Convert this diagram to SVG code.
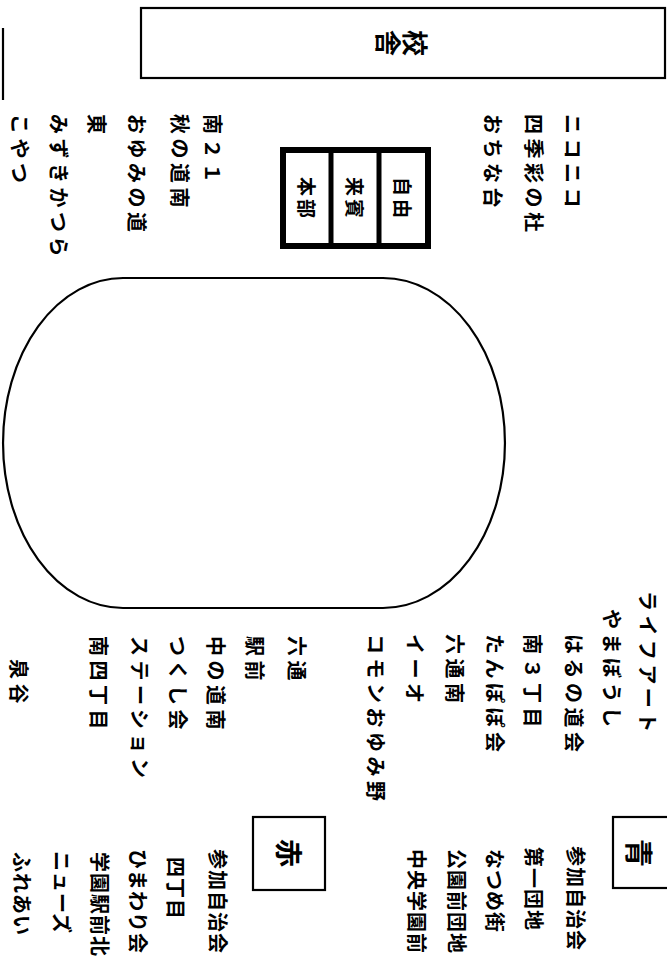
<svg xmlns="http://www.w3.org/2000/svg" width="667" height="959" viewBox="0 0 667 959">
<style>
.t{font-family:"Noto Sans CJK JP","Noto Sans",sans-serif;font-size:20px;font-weight:700;fill:#000;dominant-baseline:central;letter-spacing:4.5px}
.s{letter-spacing:1px}
.b{font-family:"Noto Sans CJK JP","Noto Sans",sans-serif;font-weight:700;fill:#000;dominant-baseline:central;text-anchor:middle}
.ln{fill:none;stroke:#000;stroke-width:2.2}
</style>
<rect width="667" height="959" fill="#fff"/>
<g id="edge-line"><line class="ln" x1="3" y1="28" x2="3" y2="100"/></g>
<g id="kousha">
<rect class="ln" x="141" y="8" width="524" height="70" stroke-width="2.5"/>
<text class="b" font-size="26" transform="translate(416,43) rotate(90)">校</text>
<text class="b" font-size="26" transform="translate(389,43) rotate(90)">舎</text>
</g>
<g id="honbu">
<rect x="283" y="150" width="145" height="96" fill="none" stroke="#000" stroke-width="6"/>
<line x1="331" y1="150" x2="331" y2="246" stroke="#000" stroke-width="5"/>
<line x1="379" y1="150" x2="379" y2="246" stroke="#000" stroke-width="5"/>
<text class="b" font-size="19" letter-spacing="3" transform="translate(403,199) rotate(90)">自由</text>
<text class="b" font-size="19" letter-spacing="3" transform="translate(355,199) rotate(90)">来賓</text>
<text class="b" font-size="19" letter-spacing="3" transform="translate(307,199) rotate(90)">本部</text>
</g>
<g id="track"><path class="ln" d="M123,278 L383,278 A122,165 0 0 1 383,608 L123,608 A120,165 0 0 1 123,278 Z"/></g>
<g id="top-right-list">
<text class="t" transform="translate(573,114) rotate(90)">ニコニコ</text>
<text class="t" transform="translate(534,114) rotate(90)">四季彩の杜</text>
<text class="t" transform="translate(493,114) rotate(90)">おちな台</text>
</g>
<g id="top-left-list">
<text class="t" transform="translate(213,114) rotate(90)">南２１</text>
<text class="t" transform="translate(180,114) rotate(90)">秋の道南</text>
<text class="t" transform="translate(137,114) rotate(90)">おゆみの道</text>
<text class="t" transform="translate(97,114) rotate(90)">東</text>
<text class="t" transform="translate(59,114) rotate(90)">みずきかつら</text>
<text class="t" transform="translate(20,114) rotate(90)">こやつ</text>
</g>
<g id="bottom-left-list">
<text class="t" transform="translate(297,636) rotate(90)">六通</text>
<text class="t" transform="translate(255,636) rotate(90)">駅前</text>
<text class="t" transform="translate(216,636) rotate(90)">中の道南</text>
<text class="t" transform="translate(178,636) rotate(90)">つくし会</text>
<text class="t" transform="translate(140,636) rotate(90)">ステーション</text>
<text class="t" transform="translate(99,636) rotate(90)">南四丁目</text>
<text class="t" transform="translate(19,659) rotate(90)">泉谷</text>
</g>
<g id="bottom-right-list">
<text class="t" transform="translate(648,591) rotate(90)">ライフアート</text>
<text class="t" transform="translate(612,609) rotate(90)">やまぼうし</text>
<text class="t" transform="translate(574,634) rotate(90)">はるの道会</text>
<text class="t" transform="translate(533,634) rotate(90)">南３丁目</text>
<text class="t" transform="translate(495,634) rotate(90)">たんぽぽ会</text>
<text class="t" transform="translate(455,634) rotate(90)">六通南</text>
<text class="t" transform="translate(415,634) rotate(90)">イーオ</text>
<text class="t" transform="translate(376,634) rotate(90)">コモンおゆみ野</text>
</g>
<g id="aka">
<rect class="ln" x="253" y="817" width="72" height="73"/>
<text class="b" font-size="28" transform="translate(290,853) rotate(90)">赤</text>
</g>
<g id="aka-list">
<text class="t s" transform="translate(218,849) rotate(90)">参加自治会</text>
<text class="t s" transform="translate(176,857) rotate(90)">四丁目</text>
<text class="t s" transform="translate(138,849) rotate(90)">ひまわり会</text>
<text class="t s" transform="translate(100,852) rotate(90)">学園駅前北</text>
<text class="t s" transform="translate(62,851) rotate(90)">ニューズ</text>
<text class="t s" transform="translate(22,852) rotate(90)">ふれあい</text>
</g>
<g id="ao">
<rect class="ln" x="613" y="817" width="70" height="71"/>
<text class="b" font-size="28" transform="translate(640,853) rotate(90)">青</text>
</g>
<g id="ao-list">
<text class="t s" transform="translate(576,846) rotate(90)">参加自治会</text>
<text class="t s" transform="translate(534,847) rotate(90)">第一団地</text>
<text class="t s" transform="translate(495,849) rotate(90)">なつめ街</text>
<text class="t s" transform="translate(457,849) rotate(90)">公園前団地</text>
<text class="t s" transform="translate(417,849) rotate(90)">中央学園前</text>
</g>
</svg>
